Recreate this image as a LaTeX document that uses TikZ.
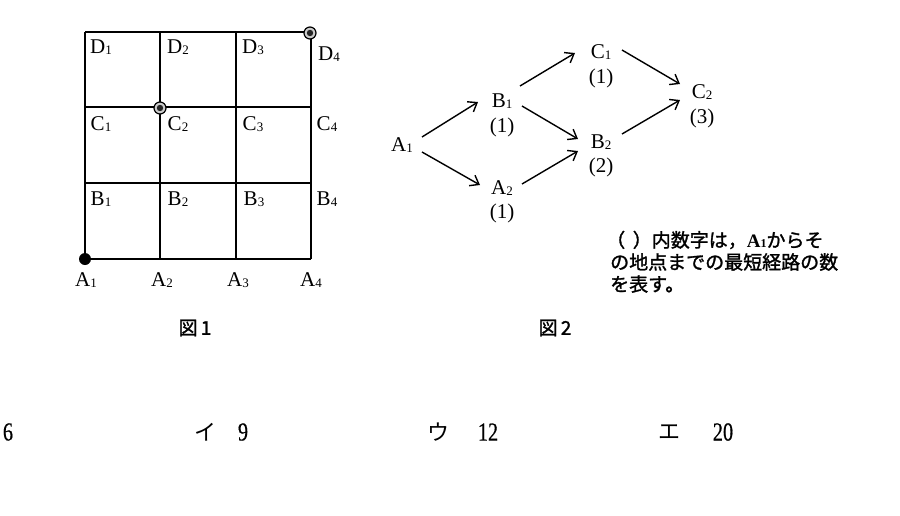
\documentclass[tikz,border=0pt]{standalone}
\usepackage{fontspec}
\setmainfont{Liberation Serif}
\newfontfamily\cjk{Noto Sans CJK JP}
\newfontfamily\cjkb{Noto Sans CJK JP}[FakeBold=1.5]
\newfontfamily\numf{Liberation Serif}[FakeStretch=0.78,FakeBold=0.5]
\newfontfamily\serb{Liberation Serif}
\usetikzlibrary{arrows.meta}
\newcommand{\lb}[2]{#1\raisebox{-0.6pt}{\fontsize{13}{13}\selectfont #2}}
\tikzset{
  gridline/.style={line width=1.6pt},
  lab/.style={inner sep=0pt, font=\fontsize{21}{21}\selectfont},
  cnt/.style={inner sep=0pt, font=\fontsize{21}{21}\selectfont},
  arr/.style={line width=1.4pt, -{Straight Barb[length=8pt,width=12pt,line width=1.4pt]}},
  note/.style={inner sep=0pt, anchor=west, font=\cjkb\fontsize{19}{19}\selectfont},
  figcap/.style={inner sep=0pt, font=\cjkb\fontsize{19}{19}\selectfont},
  choice/.style={inner sep=0pt, font=\numf\fontsize{26}{26}\selectfont},
  kana/.style={inner sep=0pt, font=\cjk\fontsize{22}{22}\selectfont}
}
\begin{document}
\begin{tikzpicture}[x=1pt,y=-1pt]
\useasboundingbox[fill=white] (0,0) rectangle (900,515);
% grid
\foreach \x in {85,160,236,311} \draw[gridline] (\x,32) -- (\x,259);
\foreach \y in {32,107,183,259} \draw[gridline] (85,\y) -- (311,\y);
% dots
\fill[black] (85,259) circle (6);
\draw[line width=1.2pt, fill=gray!40] (160,108) circle (6);
\fill[black!85] (160,108) circle (3.2);
\draw[line width=1.2pt, fill=gray!40] (310,33) circle (6);
\fill[black!85] (310,33) circle (3.2);
% grid labels
\node[lab] (gD1) at (101,47) {\lb{D}{1}};
\node[lab] (gD2) at (178,47) {\lb{D}{2}};
\node[lab] (gD3) at (253,47) {\lb{D}{3}};
\node[lab] (gD4) at (329,54) {\lb{D}{4}};
\node[lab] (gC1) at (101,124) {\lb{C}{1}};
\node[lab] (gC2) at (178,124) {\lb{C}{2}};
\node[lab] (gC3) at (253,124) {\lb{C}{3}};
\node[lab] (gC4) at (327,124) {\lb{C}{4}};
\node[lab] (gB1) at (101,199) {\lb{B}{1}};
\node[lab] (gB2) at (178,199) {\lb{B}{2}};
\node[lab] (gB3) at (254,199) {\lb{B}{3}};
\node[lab] (gB4) at (327,199) {\lb{B}{4}};
\node[lab] (gA1) at (86,280) {\lb{A}{1}};
\node[lab] (gA2) at (162,280) {\lb{A}{2}};
\node[lab] (gA3) at (238,280) {\lb{A}{3}};
\node[lab] (gA4) at (311,280) {\lb{A}{4}};
% graph 2
\node[lab] (A1) at (402,145) {\lb{A}{1}};
\node[lab] (B1) at (502,101) {\lb{B}{1}};
\node[cnt] (nB1) at (502,127) {(1)};
\node[lab] (A2) at (502,188) {\lb{A}{2}};
\node[cnt] (nA2) at (502,213) {(1)};
\node[lab] (C1) at (601,52) {\lb{C}{1}};
\node[cnt] (nC1) at (601,78) {(1)};
\node[lab] (B2) at (601,142) {\lb{B}{2}};
\node[cnt] (nB2) at (601,167) {(2)};
\node[lab] (C2) at (702,92) {\lb{C}{2}};
\node[cnt] (nC2) at (702,118) {(3)};
\coordinate (a1u) at (422,137); \coordinate (b1i) at (478,102);
\coordinate (a1d) at (422,152); \coordinate (a2i) at (480,185);
\coordinate (b1u) at (520,86); \coordinate (c1i) at (575,53);
\coordinate (b1d) at (522,106); \coordinate (b2iu) at (578,139);
\coordinate (a2o) at (522,184); \coordinate (b2id) at (578,151);
\coordinate (c1o) at (622,50); \coordinate (c2iu) at (680,84);
\coordinate (b2o) at (622,134); \coordinate (c2id) at (680,100);
\draw[arr] (a1u) -- (b1i);
\draw[arr] (a1d) -- (a2i);
\draw[arr] (b1u) -- (c1i);
\draw[arr] (b1d) -- (b2iu);
\draw[arr] (a2o) -- (b2id);
\draw[arr] (c1o) -- (c2iu);
\draw[arr] (b2o) -- (c2id);
% note
\node[note] (n1) at (606,240) {（\hspace{0.4em}）内数字は，{\serb\bfseries\fontsize{19}{19}\selectfont A\fontsize{12}{12}\selectfont 1}からそ};
\node[note] (n2) at (610,262) {の地点までの最短経路の数};
\node[note] (n3) at (610,284) {を表す。};
% captions
\node[figcap] (f1) at (195,328) {図\,1};
\node[figcap] (f2) at (555,328) {図\,2};
% choices
\node[choice] (c6) at (8,432) {6};
\node[kana] (ki) at (205,432) {イ};
\node[choice] (c9) at (243,432) {9};
\node[kana] (ku) at (438,432) {ウ};
\node[choice] (c12) at (488,432) {12};
\node[kana] (ke) at (669,432) {エ};
\node[choice] (c20) at (723,432) {20};
\end{tikzpicture}
\end{document}
